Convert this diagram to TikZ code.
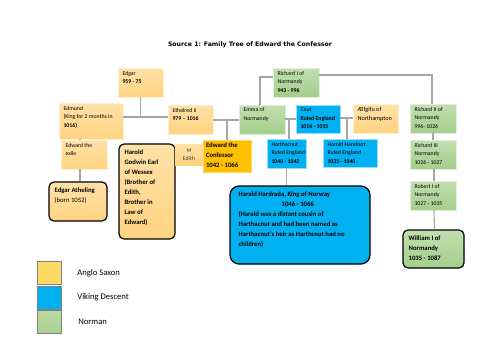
\documentclass[tikz,border=0pt]{standalone}
\usepackage{fontspec}
\setmainfont{Carlito}
\newfontfamily\titlefont{DejaVu Sans}
\usetikzlibrary{positioning}

\definecolor{saxonhi}{RGB}{255,226,168}
\definecolor{saxonlo}{RGB}{255,211,128}
\definecolor{confessor}{RGB}{255,192,0}
\definecolor{viking}{RGB}{0,176,240}
\definecolor{normanhi}{RGB}{194,223,175}
\definecolor{normanlo}{RGB}{163,206,140}
\definecolor{keysaxon}{RGB}{255,217,102}
\definecolor{keynorman}{RGB}{169,209,142}
\definecolor{linkgray}{RGB}{166,166,166}

\begin{document}
\begin{tikzpicture}[x=1pt, y=-1pt,
    every node/.style={font=\fontsize{5.8}{8.5}\selectfont, inner sep=0pt},
    lbl/.style={anchor=north west, inner xsep=4.5pt, inner ysep=3pt, align=left},
    txt/.style={label={[lbl]north west:{#1}}},
    big/.style={label={[lbl, inner sep=6pt, font=\fontsize{6.7}{10}\selectfont\bfseries]north west:{#1}}},
    saxon/.style={rectangle, top color=saxonhi, bottom color=saxonlo, draw=saxonhi!50!white, thin},
    norman/.style={rectangle, top color=normanhi, bottom color=normanlo, draw=normanhi!50!white, thin},
    viking/.style={rectangle, fill=viking, draw=viking!40!white, thin},
    famous/.style={draw=black, line width=1.2pt, rounded corners=5pt},
    link/.style={draw=linkgray, line width=1.1pt},
    key/.style={rectangle, draw=gray, minimum width=24, minimum height=23},
    keytxt/.style={right=16pt of #1, font=\fontsize{8.6}{10}\selectfont}
  ]
  \fill[white] (0,0) rectangle (500,354);
  \useasboundingbox (0,0) rectangle (500,354);

  \node[font=\titlefont\bfseries\fontsize{6.2}{7}\selectfont] (title) at (250,45)
    {Source 1: Family Tree of Edward the Confessor};

  % anglo saxon line
  \node[saxon, minimum width=45, minimum height=29, txt={Edgar\\\textbf{959 - 75}}] (edgar) at (140.5,82.5) {};
  \node[saxon, minimum width=64, minimum height=36, txt={Edmund\\(King for 2 months in\\\textbf{1016)}}] (edmund) at (91,121) {};
  \node[saxon, minimum width=45, minimum height=29, txt={Ethelred II\\\textbf{979 -- 1016}}] (ethelred) at (190.5,119.5) {};
  \node[saxon, minimum width=46, minimum height=29, txt={Edward the\\exile}] (exile) at (84,154.5) {};
  \node[saxon, famous, minimum width=58, minimum height=39,
    big={Edgar Atheling\\\mdseries(born 1052)}] (atheling) at (78,201.5) {};
  \node[saxon, famous, minimum width=56, minimum height=95,
    big={Harold\\Godwin Earl\\of Wessex\\(Brother of\\Edith,\\Brother in\\Law of\\Edward)}] (godwin) at (147,191.5) {};
  \node[rectangle, top color=saxonhi, bottom color=saxonlo, minimum width=28, minimum height=21,
    align=center, text=black!75] (edith) at (189,154.5) {M\\Edith};
  \node[rectangle, fill=confessor, draw=confessor!60!white, thin, minimum width=48, minimum height=32,
    label={[lbl, inner sep=3pt, font=\fontsize{6.7}{10}\selectfont\bfseries]north west:{Edward the\\Confessor\\1042 - 1066}}] (confessor) at (227,156) {};

  % normans
  \node[norman, minimum width=46, minimum height=29, txt={Emma of\\Normandy}] (emma) at (262,119.5) {};
  \node[norman, minimum width=46, minimum height=29, txt={Richard I of\\Normandy\\\textbf{943 - 996}}] (richard1) at (296,82.5) {};
  \node[norman, minimum width=46, minimum height=29, txt={Richard II of\\Normandy\\996- 1026}] (richard2) at (433,118.5) {};
  \node[norman, minimum width=46, minimum height=29, txt={Richard III\\Normandy\\1026 - 1027}] (richard3) at (433,154.5) {};
  \node[norman, minimum width=46, minimum height=29, txt={Robert I of\\Normandy\\1027 - 1035}] (robert) at (433,195.5) {};
  \node[norman, famous, minimum width=61, minimum height=38,
    big={William I of\\Normandy\\1035 - 1087}] (william) at (433.5,249) {};

  % vikings
  \node[viking, minimum width=44, minimum height=28, txt={Cnut\\\textbf{Ruled England}\\\textbf{1016 - 1035}}] (cnut) at (318,119) {};
  \node[viking, minimum width=39, minimum height=29, txt={Harthacnut\\Ruled England\\\textbf{1040 - 1042}}] (harthacnut) at (286.5,153.5) {};
  \node[saxon, minimum width=45, minimum height=29,
    label={[lbl, font=\fontsize{6.2}{9}\selectfont]north west:{Ælfgifu of\\Northampton}}] (aelfgifu) at (375.5,118.5) {};
  \node[viking, minimum width=54, minimum height=28, txt={Harold Harefoot\\Ruled England\\\textbf{1035 - 1040}}] (harefoot) at (350,153) {};
  \node[viking, famous, rounded corners=9pt, minimum width=140, minimum height=78,
    label={[lbl, inner xsep=9pt, inner ysep=6pt, font=\fontsize{6.7}{10}\selectfont\bfseries]north west:{Harald Hardrada, King of Norway\\
      \hspace*{43pt}1046 - 1066\\(Harald was a distant cousin of\\Harthacnut and had been named as\\
      Harthacnut’s heir as Harthcnut had no\\children)}}] (hardrada) at (300,225) {};

  % connectors
  \coordinate (wed1) at (140.5,117);
  \coordinate (wed2) at (227,120);
  \coordinate (wed3) at (289,119);
  \coordinate (wed4) at (347,118);
  \draw[link] (edgar.south) -- (wed1);
  \draw[link] (edmund.east |- wed1) -- (ethelred.west |- wed1);
  \draw[link] ([xshift=-4pt]exile.north) -- ([xshift=-4pt]exile.north |- edmund.south);
  \draw[link] ([xshift=-4pt]exile.south) -- ([xshift=-4pt]exile.south |- atheling.north);
  \draw[link] (ethelred.east |- wed2) -- (emma.west |- wed2);
  \draw[link] (wed2) -- (confessor.north);
  \draw[link] ([yshift=5.5pt]richard1.west) -| ([xshift=-2pt]emma.north);
  \draw[link] ([yshift=7.5pt]richard1.east) -| ([xshift=-1pt]richard2.north);
  \draw[link] (emma.east |- wed3) -- (cnut.west |- wed3);
  \draw[link] (wed3) -- (harthacnut.north -| wed3);
  \draw[link] (cnut.east |- wed4) -- (aelfgifu.west |- wed4);
  \draw[link] (wed4) -- (harefoot.north -| wed4);
  \draw[link] (harthacnut.south) -- (harthacnut.south |- hardrada.north);
  \draw[link] (richard2.south) -- (richard3.north);
  \draw[link] ([xshift=1pt]richard3.south) -- ([xshift=1pt]robert.north);
  \draw[link] ([xshift=1pt]robert.south) -- ([xshift=1pt]william.north);

  % key
  \node[key, fill=keysaxon] (keysaxon) at (49,273) {};
  \node[key, fill=viking] (keyviking) at (49,297.5) {};
  \node[key, top color=keynorman!80!white, bottom color=keynorman] (keynorman) at (49,321.5) {};
  \node[keytxt=keysaxon] (keysaxontxt) {Anglo Saxon};
  \node[keytxt=keyviking] (keyvikingtxt) {Viking Descent};
  \node[keytxt=keynorman, xshift=1pt] (keynormantxt) {Norman};
\end{tikzpicture}
\end{document}
